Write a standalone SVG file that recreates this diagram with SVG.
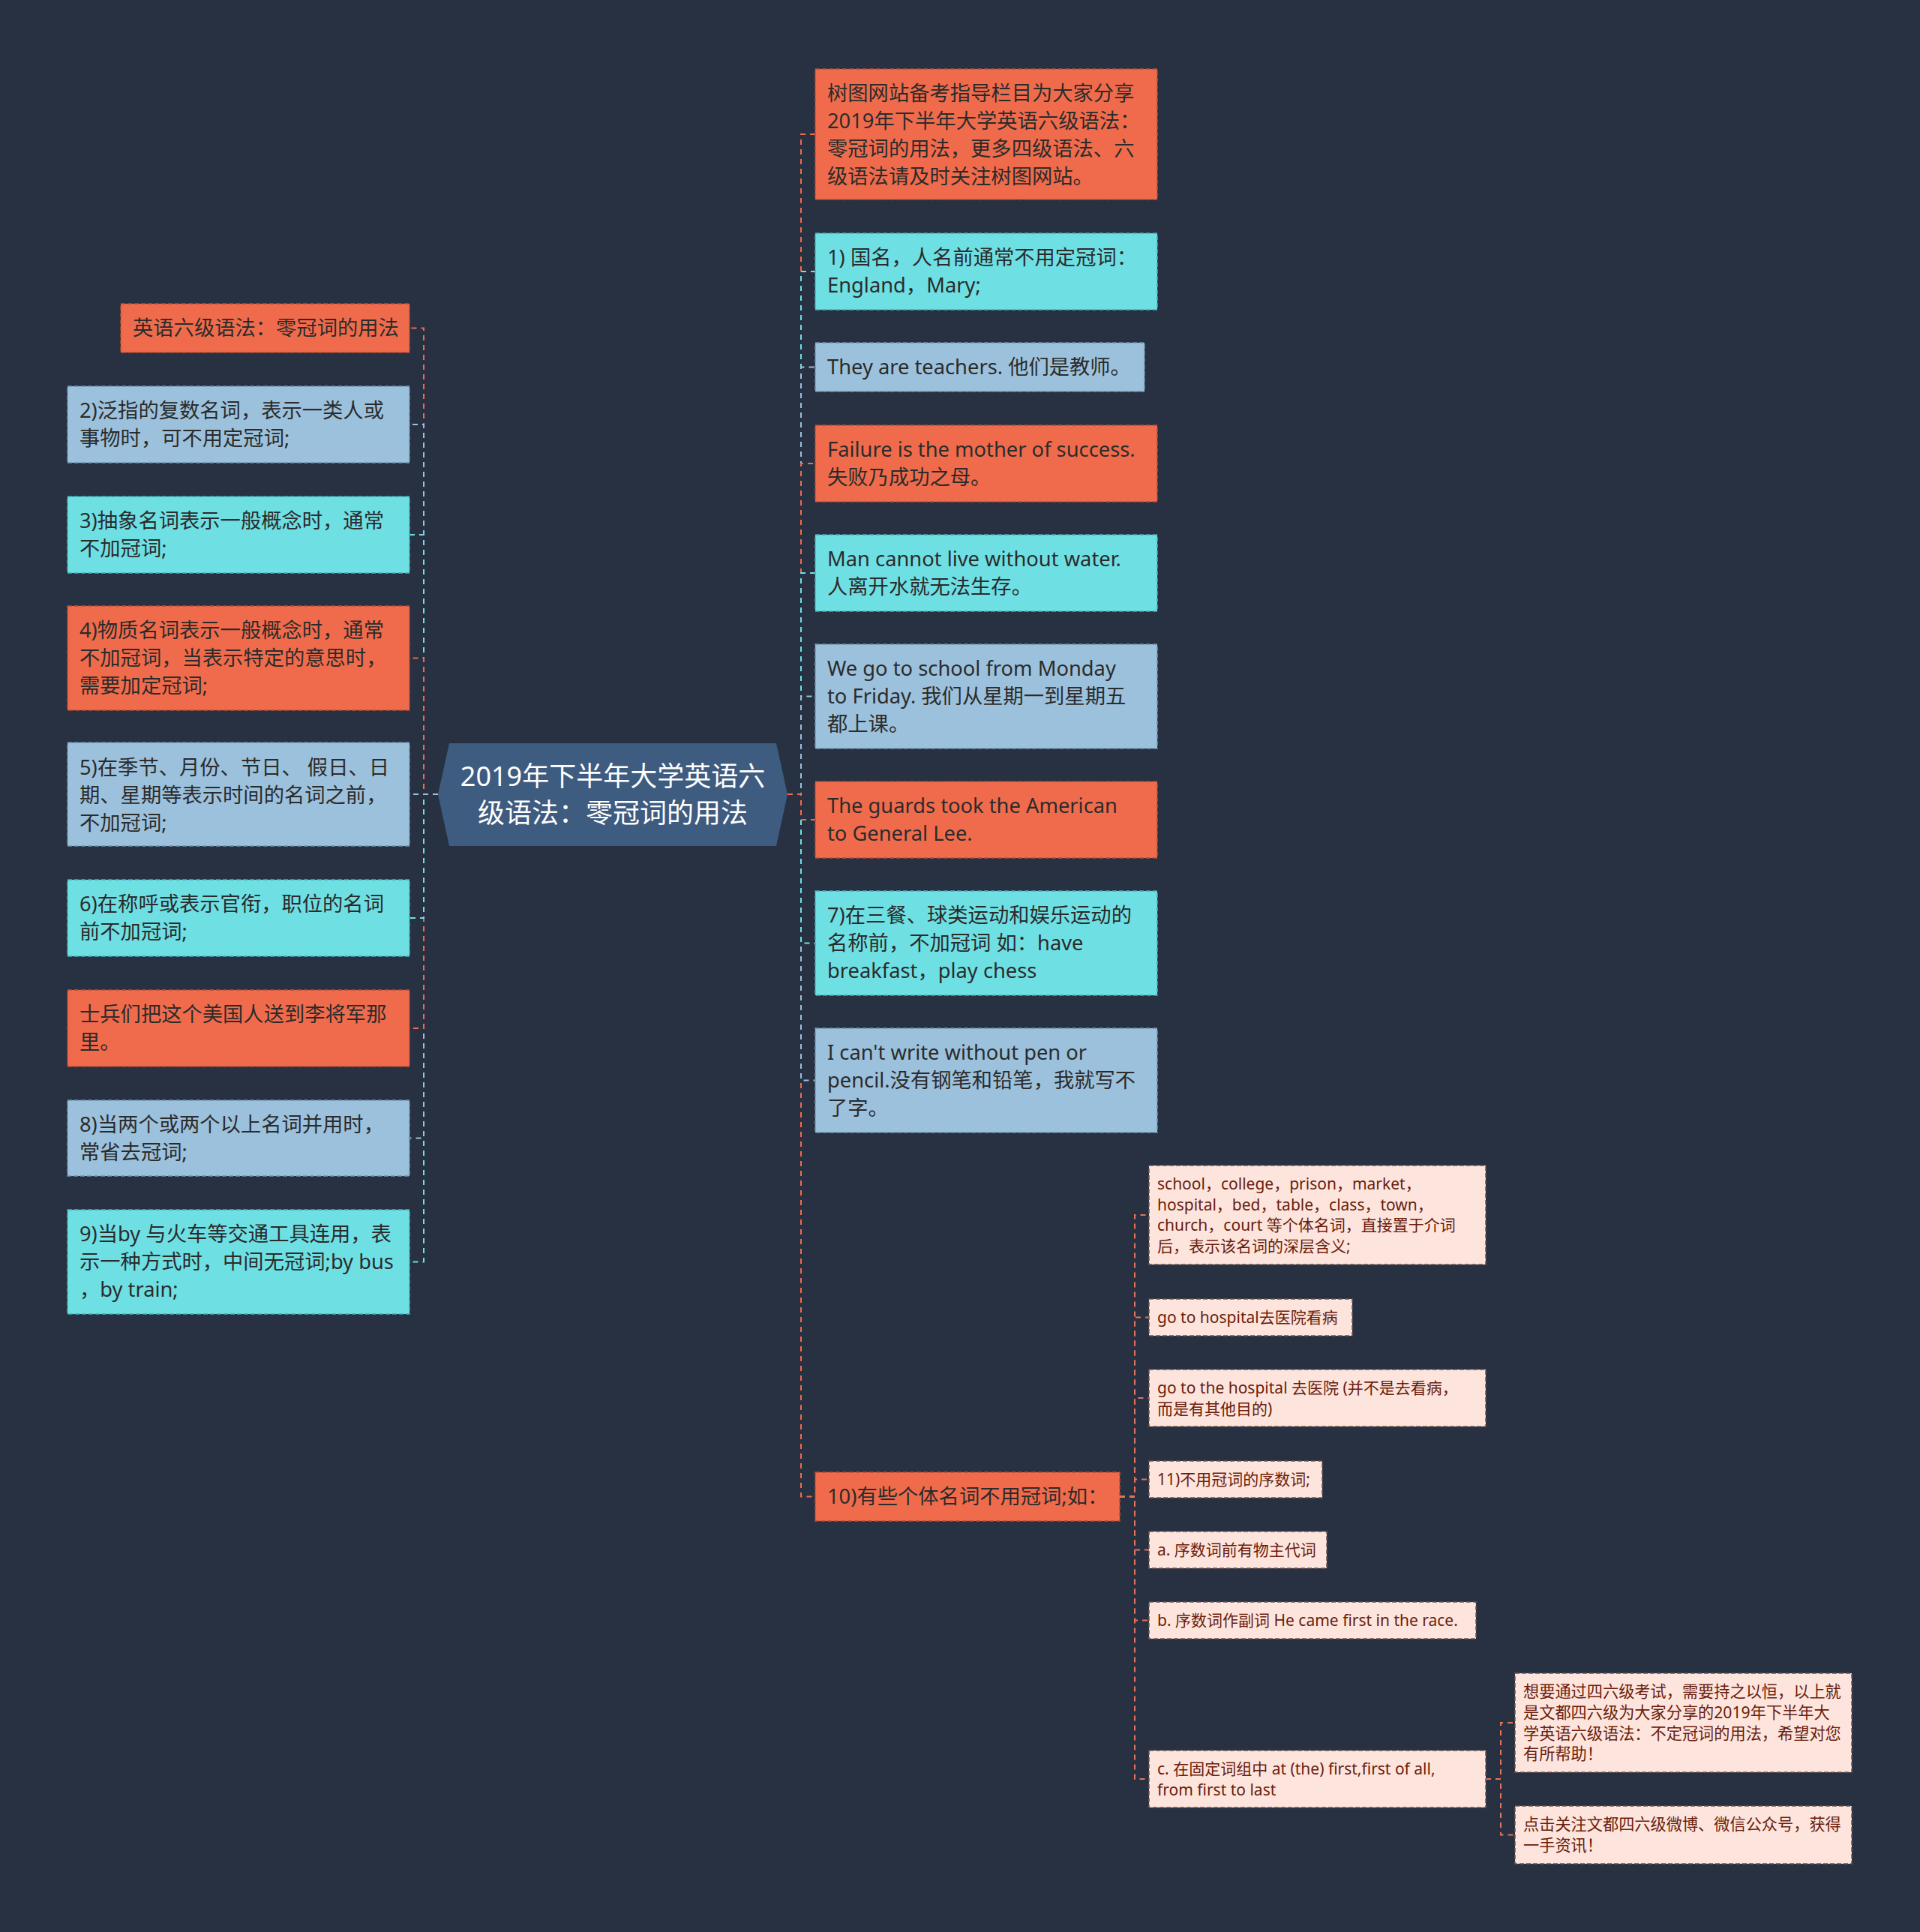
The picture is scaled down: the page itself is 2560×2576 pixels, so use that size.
<svg xmlns="http://www.w3.org/2000/svg" width="2560" height="2576" viewBox="0 0 2560 2576">
<style>
text{font-family:"Noto Sans","Noto Sans CJK SC",sans-serif;}
.t{font-size:27.3px;fill:#2b2b2b;}
.s{font-size:21px;fill:#6a1c0c;}
.u{font-size:21.2px;fill:#6a1c0c;}
.c{font-size:36px;fill:#ffffff;text-anchor:middle;}
.or{fill:#f06b4c;stroke:#b84e35;stroke-width:1.5;stroke-dasharray:6 3;}
.bg{fill:#9cc1dc;stroke:#6f93ad;stroke-width:1.5;stroke-dasharray:6 3;}
.cy{fill:#6ee0e4;stroke:#43b0b6;stroke-width:1.5;stroke-dasharray:6 3;}
.pk{fill:#fde5dd;stroke:#6b5550;stroke-width:1.5;stroke-dasharray:6 3;}
.lk{fill:none;stroke-width:2;stroke-dasharray:7 6;}
.lo{stroke:#f06b4c;}
.lb{stroke:#9cc1dc;}
.lc{stroke:#6ee0e4;}
.ls{stroke:#e5735a;}
</style>
<rect width="2560" height="2576" fill="#283142"/>
<g id="connectors">
<path class="lk lc" d="M584 1059H565V1682.5H547"/>
<path class="lk lb" d="M584 1059H565V1517.5H547"/>
<path class="lk lo" d="M584 1059H565V1371H547"/>
<path class="lk lc" d="M584 1059H565V1224H547"/>
<path class="lk lo" d="M584 1059H565V437.5H547"/>
<path class="lk lb" d="M584 1059H565V566H547"/>
<path class="lk lc" d="M584 1059H565V713H547"/>
<path class="lk lo" d="M584 1059H565V877.5H547"/>
<path class="lk lb" d="M584 1059H565V1059H547"/>
<path class="lk lo" d="M1050 1059H1068V179H1087"/>
<path class="lk lc" d="M1050 1059H1068V362H1087"/>
<path class="lk lb" d="M1050 1059H1068V489.5H1087"/>
<path class="lk lo" d="M1050 1059H1068V618H1087"/>
<path class="lk lc" d="M1050 1059H1068V764H1087"/>
<path class="lk lb" d="M1050 1059H1068V928.5H1087"/>
<path class="lk lo" d="M1050 1059H1068V1995.5H1087"/>
<path class="lk lb" d="M1050 1059H1068V1440.5H1087"/>
<path class="lk lc" d="M1050 1059H1068V1257.5H1087"/>
<path class="lk lo" d="M1050 1059H1068V1093H1087"/>
<path class="lk ls" d="M1493 1995.5H1513V1620H1532"/>
<path class="lk ls" d="M1493 1995.5H1513V1756.5H1532"/>
<path class="lk ls" d="M1493 1995.5H1513V1864H1532"/>
<path class="lk ls" d="M1493 1995.5H1513V1972.5H1532"/>
<path class="lk ls" d="M1493 1995.5H1513V2066.5H1532"/>
<path class="lk ls" d="M1493 1995.5H1513V2160.5H1532"/>
<path class="lk ls" d="M1493 1995.5H1513V2372H1532"/>
<path class="lk ls" d="M1981 2372H2001V2297H2020"/>
<path class="lk ls" d="M1981 2372H2001V2446.5H2020"/>
</g>
<g id="center">
<polygon points="584,1059 599,991 1035,991 1050,1059 1035,1128 599,1128" fill="#3e5b80"/>
<text class="c" x="817" y="1048">2019年下半年大学英语六</text>
<text class="c" x="817" y="1097">级语法：零冠词的用法</text>
</g>
<g id="L0"><rect class="or" x="161" y="405" width="385" height="65"/><text class="t" x="177" y="447">英语六级语法：零冠词的用法</text></g>
<g id="L1"><rect class="bg" x="90" y="515" width="456" height="102"/><text class="t" x="106" y="557">2)泛指的复数名词，表示一类人或</text><text class="t" x="106" y="594">事物时，可不用定冠词;</text></g>
<g id="L2"><rect class="cy" x="90" y="662" width="456" height="102"/><text class="t" x="106" y="704">3)抽象名词表示一般概念时，通常</text><text class="t" x="106" y="741">不加冠词;</text></g>
<g id="L3"><rect class="or" x="90" y="808" width="456" height="139"/><text class="t" x="106" y="850">4)物质名词表示一般概念时，通常</text><text class="t" x="106" y="887">不加冠词，当表示特定的意思时，</text><text class="t" x="106" y="924">需要加定冠词;</text></g>
<g id="L4"><rect class="bg" x="90" y="990" width="456" height="138"/><text class="t" x="106" y="1033">5)在季节、月份、节日、 假日、日</text><text class="t" x="106" y="1070">期、星期等表示时间的名词之前，</text><text class="t" x="106" y="1107">不加冠词;</text></g>
<g id="L5"><rect class="cy" x="90" y="1173" width="456" height="102"/><text class="t" x="106" y="1215">6)在称呼或表示官衔，职位的名词</text><text class="t" x="106" y="1252">前不加冠词;</text></g>
<g id="L6"><rect class="or" x="90" y="1320" width="456" height="102"/><text class="t" x="106" y="1362">士兵们把这个美国人送到李将军那</text><text class="t" x="106" y="1399">里。</text></g>
<g id="L7"><rect class="bg" x="90" y="1467" width="456" height="101"/><text class="t" x="106" y="1509">8)当两个或两个以上名词并用时，</text><text class="t" x="106" y="1546">常省去冠词;</text></g>
<g id="L8"><rect class="cy" x="90" y="1613" width="456" height="139"/><text class="t" x="106" y="1655">9)当by 与火车等交通工具连用，表</text><text class="t" x="106" y="1692">示一种方式时，中间无冠词;by bus</text><text class="t" x="106" y="1729">，by train;</text></g>
<g id="R0"><rect class="or" x="1087" y="92" width="456" height="174"/><text class="t" x="1103" y="134">树图网站备考指导栏目为大家分享</text><text class="t" x="1103" y="171">2019年下半年大学英语六级语法：</text><text class="t" x="1103" y="208">零冠词的用法，更多四级语法、六</text><text class="t" x="1103" y="245">级语法请及时关注树图网站。</text></g>
<g id="R1"><rect class="cy" x="1087" y="311" width="456" height="102"/><text class="t" x="1103" y="353">1) 国名，人名前通常不用定冠词：</text><text class="t" x="1103" y="390">England，Mary;</text></g>
<g id="R2"><rect class="bg" x="1087" y="457" width="439" height="65"/><text class="t" x="1103" y="499">They are teachers. 他们是教师。</text></g>
<g id="R3"><rect class="or" x="1087" y="567" width="456" height="102"/><text class="t" x="1103" y="609">Failure is the mother of success.</text><text class="t" x="1103" y="646">失败乃成功之母。</text></g>
<g id="R4"><rect class="cy" x="1087" y="713" width="456" height="102"/><text class="t" x="1103" y="755">Man cannot live without water.</text><text class="t" x="1103" y="792">人离开水就无法生存。</text></g>
<g id="R5"><rect class="bg" x="1087" y="859" width="456" height="139"/><text class="t" x="1103" y="901">We go to school from Monday</text><text class="t" x="1103" y="938">to Friday. 我们从星期一到星期五</text><text class="t" x="1103" y="975">都上课。</text></g>
<g id="R6"><rect class="or" x="1087" y="1042" width="456" height="102"/><text class="t" x="1103" y="1084">The guards took the American</text><text class="t" x="1103" y="1121">to General Lee.</text></g>
<g id="R7"><rect class="cy" x="1087" y="1188" width="456" height="139"/><text class="t" x="1103" y="1230">7)在三餐、球类运动和娱乐运动的</text><text class="t" x="1103" y="1267">名称前，不加冠词 如：have</text><text class="t" x="1103" y="1304">breakfast，play chess</text></g>
<g id="R8"><rect class="bg" x="1087" y="1371" width="456" height="139"/><text class="t" x="1103" y="1413">I can't write without pen or</text><text class="t" x="1103" y="1450">pencil.没有钢笔和铅笔，我就写不</text><text class="t" x="1103" y="1487">了字。</text></g>
<g id="R9"><rect class="or" x="1087" y="1963" width="406" height="65"/><text class="t" x="1103" y="2005">10)有些个体名词不用冠词;如：</text></g>
<g id="S0"><rect class="pk" x="1532" y="1554" width="449" height="132"/><text class="s" x="1543" y="1586">school，college，prison，market，</text><text class="s" x="1543" y="1613.5">hospital，bed，table，class，town，</text><text class="s" x="1543" y="1641">church，court 等个体名词，直接置于介词</text><text class="s" x="1543" y="1668.5">后，表示该名词的深层含义;</text></g>
<g id="S1"><rect class="pk" x="1532" y="1732" width="271" height="49"/><text class="s" x="1543" y="1764">go to hospital去医院看病</text></g>
<g id="S2"><rect class="pk" x="1532" y="1826" width="449" height="76"/><text class="s" x="1543" y="1858">go to the hospital 去医院 (并不是去看病，</text><text class="s" x="1543" y="1885.5">而是有其他目的)</text></g>
<g id="S3"><rect class="pk" x="1532" y="1948" width="231" height="49"/><text class="s" x="1543" y="1980">11)不用冠词的序数词;</text></g>
<g id="S4"><rect class="pk" x="1532" y="2042" width="237" height="49"/><text class="s" x="1543" y="2074">a. 序数词前有物主代词</text></g>
<g id="S5"><rect class="pk" x="1532" y="2136" width="436" height="49"/><text class="s" x="1543" y="2168">b. 序数词作副词 He came first in the race.</text></g>
<g id="S6"><rect class="pk" x="1532" y="2334" width="449" height="76"/><text class="s" x="1543" y="2366">c. 在固定词组中 at (the) first,first of all,</text><text class="s" x="1543" y="2393.5">from first to last</text></g>
<g id="T0"><rect class="pk" x="2020" y="2231" width="449" height="132"/><text class="u" x="2031" y="2263">想要通过四六级考试，需要持之以恒，以上就</text><text class="u" x="2031" y="2291">是文都四六级为大家分享的2019年下半年大</text><text class="u" x="2031" y="2318.5">学英语六级语法：不定冠词的用法，希望对您</text><text class="u" x="2031" y="2346">有所帮助！</text></g>
<g id="T1"><rect class="pk" x="2020" y="2408" width="449" height="77"/><text class="u" x="2031" y="2440">点击关注文都四六级微博、微信公众号，获得</text><text class="u" x="2031" y="2468">一手资讯！</text></g>
</svg>
